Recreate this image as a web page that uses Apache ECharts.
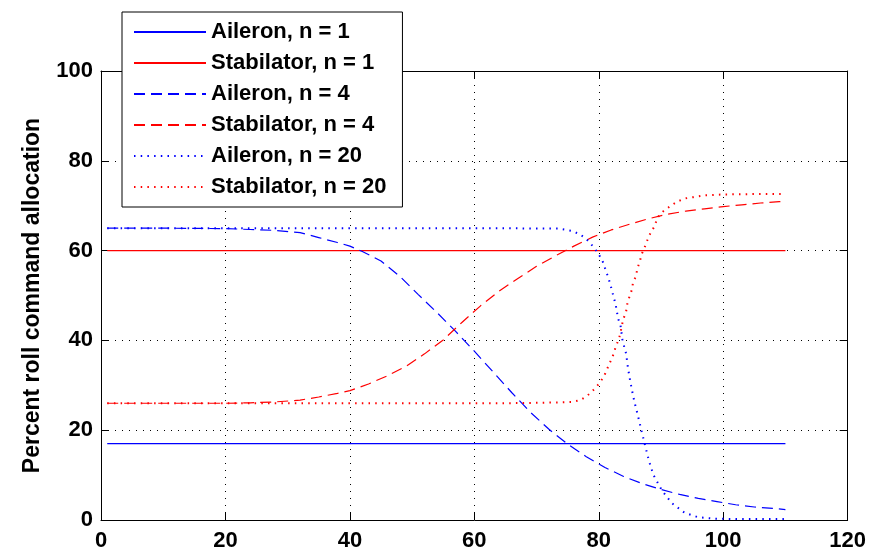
<!DOCTYPE html>
<html>
<head>
<meta charset="utf-8">
<script src="https://cdn.jsdelivr.net/npm/echarts@6/dist/echarts.min.js"></script>
<style>html,body{margin:0;padding:0;background:#fff}#c{width:869px;height:552px}</style>
</head>
<body>
<div id="c"></div>
<script>
const xTicks = [0, 20, 40, 60, 80, 100, 120];
const yTicks = [0, 20, 40, 60, 80, 100];
const seriesNames = ['Aileron, n = 1', 'Stabilator, n = 1', 'Aileron, n = 4', 'Stabilator, n = 4', 'Aileron, n = 20', 'Stabilator, n = 20'];

const aileronN1X = [1, 110];
const aileronN1Y = [17, 17];
const stabN1X = [1, 110];
const stabN1Y = [60, 60];

const aileronN4X = [1,10,20,24,28,32,35,38,40,42,45,48,51,54,57,60,63,66,69,72,75,78,81,84,87,90,93,96,99,102,105,108,110];
const aileronN4Y = [65,65,64.9,64.7,64.5,64.0,62.9,61.8,61.0,59.8,57.7,54.3,50.2,46.2,42.0,37.6,33.0,28.4,24.0,20.2,16.9,14.1,11.7,9.7,8.1,6.8,5.7,4.8,4.1,3.4,2.9,2.6,2.3];

const stabN4X = [1,10,20,24,28,32,35,38,40,43,46,49,52,55,58,61,64,67,70,73,76,79,82,85,88,91,94,97,100,103,106,109,110];
const stabN4Y = [26,26,26,26.1,26.3,26.7,27.4,28.2,28.8,30.3,32.1,34.2,37.0,40.1,44.0,47.7,51.0,53.8,56.5,58.8,61.0,63.0,64.6,65.9,67.1,68.1,68.8,69.3,69.8,70.2,70.6,70.9,71.0];

const aileronN20X = [1,10,20,30,40,50,60,65,70,73.5,75.7,77,78,79.1,79.9,80.6,81,81.4,81.8,82.1,82.4,82.7,82.9,83.1,83.5,83.8,84.1,84.4,84.7,85.1,85.5,85.8,86.1,86.4,86.9,87.5,88.1,88.8,90.1,91.7,93.8,96,98.6,102,106,110];
const aileronN20Y = [65,65,65,65,65,65,65,65,64.9,64.9,64.4,63.6,62.6,60.9,59.4,57.7,56.1,54.5,52.8,51.2,49.6,48.1,46.5,44.9,43.3,40.2,38.5,37.0,33.8,30.6,27.8,25.9,24.3,22.6,19.7,16.3,13.0,10.0,6.7,3.8,1.6,0.6,0.3,0.2,0.2,0.2];

const stabN20X = [1,10,20,30,40,50,60,65,70,73.5,75.7,77,78.1,79.1,80.2,80.9,81.4,81.9,82.4,82.7,83.2,83.5,83.7,84.0,84.4,84.6,84.9,85.3,85.5,86.0,86.2,86.6,86.9,87.4,87.8,88.3,89.0,89.4,90.4,91.5,92.6,93.8,95.2,97,100,105,110];
const stabN20Y = [26,26,26,26,26,26,26,26,26.1,26.2,26.3,26.7,27.6,28.9,30.6,32.2,33.8,35.4,37.0,38.5,40.2,41.7,43.3,44.9,46.5,48.2,49.6,51.2,52.8,54.4,56.0,57.6,59.2,60.8,62.3,63.9,65.5,67.3,68.8,69.9,70.9,71.6,71.9,72.3,72.5,72.6,72.6];

const zip = (xs, ys) => xs.map((x, i) => [x, ys[i]]);
const FONT = '"Liberation Sans", Arial, Helvetica, sans-serif';
const BLUE = '#0000ff', RED = '#ff0000';
const DASH = [11, 6], DOT = [1.5, 5.2];

function mk(name, xs, ys, color, type, width) {
  return {
    name, type: 'line', data: zip(xs, ys), showSymbol: false, symbol: 'none',
    xAxisIndex: 0, yAxisIndex: 0, animation: false, smooth: false,
    lineStyle: { color, width, type }, itemStyle: { color }
  };
}

const chart = echarts.init(document.getElementById('c'), null, { renderer: 'canvas' });
const axisLine = { show: true, onZero: false, lineStyle: { color: '#000', width: 1 } };
const tick = { show: true, inside: true, length: 8, lineStyle: { color: '#000', width: 1 } };
const gridLine = { show: true, lineStyle: { color: '#000', width: 1, type: [1, 6] } };
const lbl = { color: '#000', fontFamily: FONT, fontWeight: 'bold', fontSize: 22 };

chart.setOption({
  backgroundColor: '#fff',
  animation: false,
  grid: { left: 101, right: 19, top: 71, bottom: 30, containLabel: false },
  legend: {
    orient: 'vertical', left: 122, top: 12,
    data: seriesNames,
    itemWidth: 72, itemHeight: 14, itemGap: 7,
    padding: [8, 16, 8, 11],
    backgroundColor: '#fff', borderColor: '#000', borderWidth: 1,
    itemStyle: { color: 'rgba(0,0,0,0)', borderWidth: 0, opacity: 0 },
    textStyle: { color: '#000', fontFamily: FONT, fontWeight: 'bold', fontSize: 22, lineHeight: 24 },
    selectedMode: false
  },
  xAxis: [
    { type: 'value', min: 0, max: 120, interval: 20, position: 'bottom',
      axisLine, axisTick: tick, splitLine: gridLine,
      axisLabel: Object.assign({ margin: 10 }, lbl) },
    { type: 'value', min: 0, max: 120, interval: 20, position: 'top',
      axisLine, axisTick: tick, splitLine: { show: false }, axisLabel: { show: false } }
  ],
  yAxis: [
    { type: 'value', min: 0, max: 100, interval: 20, position: 'left',
      name: 'Percent roll command allocation', nameLocation: 'middle', nameGap: 57,
      nameTextStyle: { color: '#000', fontFamily: FONT, fontWeight: 'bold', fontSize: 23 },
      axisLine, axisTick: tick, splitLine: gridLine,
      axisLabel: Object.assign({ margin: 8 }, lbl) },
    { type: 'value', min: 0, max: 100, interval: 20, position: 'right',
      axisLine, axisTick: tick, splitLine: { show: false }, axisLabel: { show: false } }
  ],
  series: [
    mk(seriesNames[0], aileronN1X, aileronN1Y, BLUE, 'solid', 1.2),
    mk(seriesNames[1], stabN1X, stabN1Y, RED, 'solid', 1.2),
    mk(seriesNames[2], aileronN4X, aileronN4Y, BLUE, DASH, 1.2),
    mk(seriesNames[3], stabN4X, stabN4Y, RED, DASH, 1.2),
    mk(seriesNames[4], aileronN20X, aileronN20Y, BLUE, DOT, 2),
    mk(seriesNames[5], stabN20X, stabN20Y, RED, DOT, 2)
  ]
});
</script>
</body>
</html>
